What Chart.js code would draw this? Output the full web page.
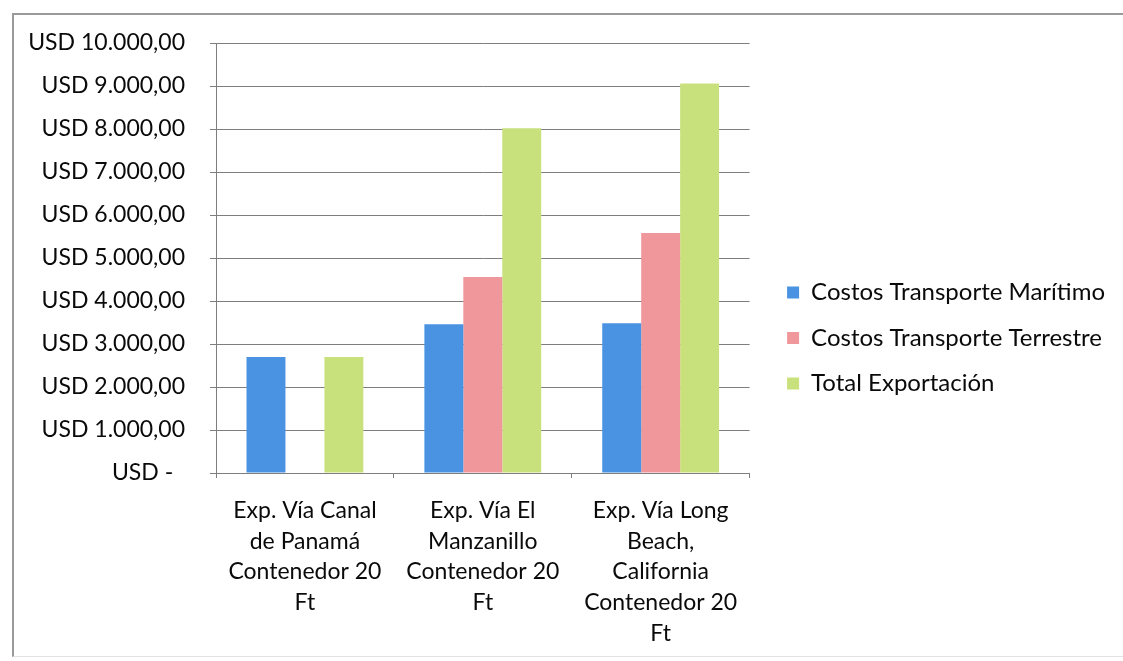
<!DOCTYPE html>
<html>
<head>
<meta charset="utf-8">
<script src="https://cdn.jsdelivr.net/npm/chart.js@4/dist/chart.umd.min.js"></script>
<style>
  html, body { margin: 0; padding: 0; background: #fff; }
  #wrap { position: relative; width: 1123px; height: 661px; overflow: hidden; }
  #frame {
    position: absolute; left: 12px; top: 13px; width: 1130px; height: 644px;
    border-top: 2px solid #9a9a9a; border-left: 2px solid #9a9a9a;
    border-bottom: 1px solid #e2e2e2; box-sizing: border-box;
  }
  canvas { position: absolute; left: 0; top: 0; }
</style>
</head>
<body>
<div id="wrap">
  <div id="frame"></div>
  <canvas id="c" width="1123" height="661"></canvas>
</div>
<script>
// Categories (export routes), one array entry per line of the axis label
const categories = [
  ['Exp. Vía Canal', 'de Panamá', 'Contenedor 20', 'Ft'],
  ['Exp. Vía El', 'Manzanillo', 'Contenedor 20', 'Ft'],
  ['Exp. Vía Long', 'Beach,', 'California', 'Contenedor 20', 'Ft']
];

// Series values in USD
const seriesNames = ['Costos Transporte Marítimo', 'Costos Transporte Terrestre', 'Total Exportación'];
const maritimo = [2700, 3460, 3480];
const terrestre = [0, 4560, 5580];
const totalExportacion = [2700, 8020, 9060];

// Value axis range
const yMin = 0;
const yMax = 10000;
const yStep = 1000;

const colors = ['#4a93e2', '#f0979c', '#c9e17c'];

function formatUSD(v) {
  if (v === 0) return 'USD -  ';
  const parts = v.toFixed(2).split('.');
  const intPart = parts[0].replace(/\B(?=(\d{3})+(?!\d))/g, '.');
  return 'USD ' + intPart + ',' + parts[1];
}

const fontFamily = 'Lato, "Open Sans", sans-serif';
const textColor = '#0a0a0a';
const gridColor = '#7e7e7e';

new Chart(document.getElementById('c'), {
  type: 'bar',
  data: {
    labels: categories,
    datasets: [
      { label: seriesNames[0], data: maritimo, backgroundColor: colors[0] },
      { label: seriesNames[1], data: terrestre, backgroundColor: colors[1] },
      { label: seriesNames[2], data: totalExportacion, backgroundColor: colors[2] }
    ]
  },
  options: {
    responsive: false,
    animation: false,
    devicePixelRatio: 1,
    layout: { padding: { left: 0, top: 15, right: 8, bottom: 0 } },
    datasets: {
      bar: { categoryPercentage: 0.657, barPercentage: 1.0, borderWidth: 0 }
    },
    plugins: {
      tooltip: { enabled: false },
      legend: {
        position: 'right',
        align: 'center',
        maxWidth: 420,
        labels: {
          boxWidth: 12,
          boxHeight: 12,
          padding: 21.5,
          color: textColor,
          font: { family: fontFamily, size: 24 }
        }
      }
    },
    scales: {
      x: {
        grid: {
          drawOnChartArea: false,
          drawTicks: true,
          tickLength: 5,
          color: gridColor,
          offset: true
        },
        border: { display: true, color: gridColor, width: 1 },
        ticks: {
          padding: 17,
          maxRotation: 0,
          autoSkip: false,
          color: textColor,
          font: { family: fontFamily, size: 23, lineHeight: 1.337 }
        },
        afterFit: (scale) => {
          scale.height = 188;
          scale.paddingLeft = 0;
          scale.paddingRight = 0;
        }
      },
      y: {
        min: yMin,
        max: yMax,
        grid: {
          color: gridColor,
          lineWidth: 1,
          drawTicks: true,
          tickLength: 6
        },
        border: { display: true, color: gridColor, width: 1 },
        ticks: {
          stepSize: yStep,
          padding: 25,
          color: textColor,
          font: { family: fontFamily, size: 23 },
          callback: (v) => formatUSD(v)
        },
        afterFit: (scale) => { scale.width = 216; }
      },
      // empty spacer above the plot
      gapTop: {
        type: 'linear',
        position: 'top',
        display: true,
        grid: { display: false, drawOnChartArea: false },
        border: { display: false },
        ticks: { display: false },
        afterFit: (scale) => { scale.height = 28; scale.paddingLeft = 0; scale.paddingRight = 0; }
      },
      // empty spacer between the plot and the legend
      gapRight: {
        type: 'linear',
        position: 'right',
        display: true,
        grid: { display: false, drawOnChartArea: false },
        border: { display: false },
        ticks: { display: false },
        afterFit: (scale) => { scale.width = 16; scale.paddingTop = 0; scale.paddingBottom = 0; }
      }
    }
  }
});
</script>
</body>
</html>
